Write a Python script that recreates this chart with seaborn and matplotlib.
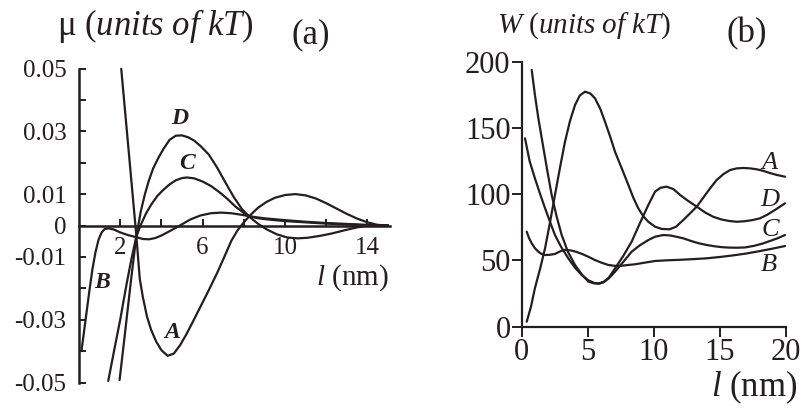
import matplotlib
matplotlib.use("Agg")
import matplotlib.pyplot as plt
import seaborn as sns
import pandas as pd

# ---- panel (a): chemical potential mu(l), units of kT ----
a_A_l = [2.05, 2.3, 2.55, 2.78, 2.95, 3.1, 3.3, 3.5, 3.75, 4.0, 4.3, 4.6, 4.9, 5.2, 5.5, 5.9,
         6.3, 6.7, 7.0, 7.4, 7.7, 8.0, 8.3, 8.7, 9.1, 9.5, 10.0, 10.5, 11.0, 11.5, 12.0, 12.5,
         13.0, 13.5, 14.0, 14.5, 15.0]
a_A_mu = [0.0499, 0.0318, 0.0137, -0.0030, -0.0170, -0.0228, -0.0290, -0.0332, -0.0370, -0.0397,
          -0.0415, -0.0408, -0.0382, -0.0348, -0.0310, -0.0258, -0.0206, -0.0152, -0.0108, -0.0048,
          -0.0015, 0.0010, 0.0032, 0.0057, 0.0075, 0.0088, 0.0097, 0.0100, 0.0096, 0.0086, 0.0071,
          0.0054, 0.0037, 0.0022, 0.0010, 0.0002, 0.0]

a_B_l = [0.12, 0.3, 0.5, 0.65, 0.8, 0.95, 1.1, 1.25, 1.45, 1.7, 2.0, 2.4, 2.78, 3.1, 3.4, 3.7,
         4.0, 4.4, 4.9, 5.4, 5.9, 6.4, 6.9, 7.4, 7.9, 8.3, 9.0, 10.0, 11.0, 12.0, 13.0, 14.0, 15.0]
a_B_mu = [-0.0400, -0.0310, -0.0210, -0.0140, -0.0085, -0.0045, -0.0022, -0.0011, -0.0009, -0.0013,
          -0.0022, -0.0031, -0.0037, -0.0043, -0.0044, -0.0040, -0.0032, -0.0018, 0.0000, 0.0019,
          0.0032, 0.0039, 0.0041, 0.0039, 0.0034, 0.0029, 0.0023, 0.0017, 0.0012, 0.0008, 0.0005,
          0.0002, 0.0]

a_C_l = [1.42, 1.7, 2.0, 2.3, 2.55, 2.78, 3.0, 3.25, 3.5, 3.8, 4.1, 4.4, 4.7, 5.0, 5.25, 5.6,
         6.0, 6.4, 6.8, 7.2, 7.6, 8.0, 8.3, 8.7, 9.2, 10.0, 11.0, 12.0, 13.0, 14.0, 15.0]
a_C_mu = [-0.0495, -0.0400, -0.0300, -0.0190, -0.0105, -0.0036, 0.0002, 0.0038, 0.0066, 0.0094,
          0.0114, 0.0131, 0.0144, 0.0151, 0.0153, 0.0150, 0.0140, 0.0126, 0.0107, 0.0085, 0.0060,
          0.0040, 0.0029, 0.0023, 0.0019, 0.0014, 0.0010, 0.0006, 0.0003, 0.0001, 0.0]

a_D_l = [1.97, 2.15, 2.35, 2.55, 2.78, 3.0, 3.2, 3.4, 3.6, 3.85, 4.1, 4.4, 4.7, 5.0, 5.3, 5.6,
         5.9, 6.3, 6.7, 7.1, 7.5, 7.9, 8.3, 8.7, 9.1, 9.6, 10.1, 10.6, 11.1, 11.7, 12.3, 12.9,
         13.5, 14.0, 15.0]
a_D_mu = [-0.0492, -0.0390, -0.0275, -0.0160, -0.0036, 0.0045, 0.0100, 0.0145, 0.0182, 0.0215,
          0.0244, 0.0273, 0.0286, 0.0287, 0.0281, 0.0270, 0.0253, 0.0226, 0.0185, 0.0138, 0.0092,
          0.0053, 0.0026, 0.0005, -0.0012, -0.0028, -0.0038, -0.0041, -0.0039, -0.0033, -0.0025,
          -0.0015, -0.0006, 0.0, 0.0]

# ---- panel (b): interaction energy W(l), units of kT ----
b_A_l = [0.38, 0.7, 1.0, 1.4, 1.77, 2.15, 2.52, 2.9, 3.28, 3.65, 4.04, 4.4, 4.8, 5.2, 5.55, 5.95,
         6.31, 6.7, 7.07, 7.6, 8.08, 8.45, 8.83, 9.2, 9.59, 10.1, 10.6, 11.2, 11.7, 12.24, 12.75,
         13.26, 13.8, 14.3, 14.77, 15.3, 15.8, 16.3, 16.8, 17.3, 17.8, 18.3, 18.8, 19.3, 19.95]
b_A_w = [3.8, 15, 29, 44, 59.2, 79, 99.4, 120, 139.6, 155, 167.3, 174.5, 177.4, 176, 172.4, 164.5,
         154.7, 143.5, 132, 119, 107, 97.5, 89.4, 83.5, 79.2, 75.5, 73.8, 73.5, 75.5, 80.5, 85.5,
         90.6, 98, 104.8, 110.7, 115.3, 118.3, 119.5, 119.8, 119.5, 118.8, 117.6, 116, 114.6, 113.2]

b_B_l = [0.38, 0.55, 0.76, 1.0, 1.26, 1.5, 1.77, 2.15, 2.52, 2.9, 3.28, 3.7, 4.1, 4.55, 5.05,
         5.55, 6.05, 6.56, 7.07, 7.58, 8.08, 8.58, 9.3, 10.1, 11, 12, 13, 14, 15, 16, 17, 18, 19,
         19.95]
b_B_w = [71.7, 67, 62.9, 59.3, 56.6, 55, 54.1, 54.3, 54.9, 56.8, 58, 57.6, 56.6, 55.0, 52.8,
         50.3, 48.3, 46.6, 45.9, 46, 46.6, 47.1, 48.3, 49.6, 50.1, 50.5, 51, 51.6, 52.6, 53.8,
         55.2, 57, 58.9, 60.9]

b_C_l = [0.25, 0.6, 1.0, 1.4, 1.77, 2.15, 2.52, 3.0, 3.53, 4.04, 4.55, 5.05, 5.55, 5.85, 6.2,
         6.6, 7.07, 7.7, 8.33, 8.96, 9.59, 10.1, 10.73, 11.3, 11.8, 12.24, 12.8, 13.4, 14.0, 14.6,
         15.2, 15.7, 16.29, 16.9, 17.6, 18.3, 18.9, 19.4, 19.95]
b_C_w = [142.2, 125, 112, 100, 89.4, 79, 69.2, 60, 51.6, 44.5, 39, 35, 32.8, 32.4, 33.5, 36.5,
         41.5, 49, 56.6, 61.5, 65.4, 67.9, 69.2, 68.8, 67.7, 66.7, 64.8, 63, 61.7, 60.7, 60, 59.7,
         59.6, 59.8, 61, 62.9, 65, 66.8, 69.2]

b_D_l = [0.76, 1.0, 1.25, 1.52, 1.9, 2.27, 2.65, 3.03, 3.5, 4.04, 4.55, 5.05, 5.45, 5.8, 6.2,
         6.6, 7.07, 7.7, 8.33, 8.95, 9.59, 10.1, 10.5, 10.98, 11.5, 12.0, 12.6, 13.26, 13.9, 14.5,
         15.1, 15.7, 16.29, 16.9, 17.5, 18.05, 18.6, 19.2, 19.95]
b_D_w = [193.7, 175, 158, 142.2, 120, 99.4, 83, 69.2, 56.5, 46.6, 39.5, 34, 32.8, 32.7, 33.8,
         37, 44, 53.5, 64.2, 78, 91.8, 101.9, 104.8, 105.7, 103.8, 99.4, 95, 90.6, 86.2, 83, 81,
         79.8, 79.2, 79.6, 80.5, 81.8, 84.5, 88.2, 93.1]

a_yticks = [-0.05, -0.04, -0.03, -0.02, -0.01, 0.0, 0.01, 0.02, 0.03, 0.04, 0.05]
a_yticklabels = ["-0.05", "", "-0.03", "", "-0.01", "0", "0.01", "", "0.03", "", "0.05"]
a_xticks = [2, 4, 6, 8, 10, 12, 14]
a_xticklabels = ["2", "", "6", "", "10", "", "14"]
b_yticks = [0, 50, 100, 150, 200]
b_xticks = [0, 5, 10, 15, 20]

sns.set_style("white")
plt.rcParams["font.family"] = ["Liberation Serif", "DejaVu Serif"]
plt.rcParams["mathtext.fontset"] = "custom"
plt.rcParams["mathtext.rm"] = "Liberation Serif"
plt.rcParams["mathtext.it"] = "Liberation Serif:italic"
plt.rcParams["mathtext.bf"] = "Liberation Serif:bold"

INK = "#231f20"
W_PX, H_PX = 803, 412

fig = plt.figure(figsize=(W_PX / 100, H_PX / 100), dpi=100)
fig.patch.set_facecolor("white")


def fx(px):
    return px / W_PX


def fy(py):
    return 1 - py / H_PX


def frame(curves, xname, yname):
    rows = []
    for name, xs, ys in curves:
        for xv, yv in zip(xs, ys):
            rows.append({xname: xv, yname: yv, "curve": name})
    return pd.DataFrame(rows)


# ---------------- panel (a) ----------------
ax_a = fig.add_axes([fx(79), fy(382.5), 15.2 * 20.6 / W_PX, 314 / H_PX])
df_a = frame([("A", a_A_l, a_A_mu), ("B", a_B_l, a_B_mu),
              ("C", a_C_l, a_C_mu), ("D", a_D_l, a_D_mu)], "l", "mu")
for name, sub in df_a.groupby("curve"):
    sns.lineplot(data=sub, x="l", y="mu", ax=ax_a, color=INK, lw=1.6,
                 sort=False, estimator=None, clip_on=False)
ax_a.set_xlim(0, 15.2)
ax_a.set_ylim(-0.05, 0.05)
ax_a.set_xlabel("")
ax_a.set_ylabel("")
for s in ("top", "right"):
    ax_a.spines[s].set_visible(False)
ax_a.spines["bottom"].set_position(("data", 0))
ax_a.spines["bottom"].set_bounds(0, 15.1)
ax_a.spines["left"].set_bounds(-0.05, 0.05)
for s in ("left", "bottom"):
    ax_a.spines[s].set_visible(True)
    ax_a.spines[s].set_color(INK)
    ax_a.spines[s].set_linewidth(1.8)
ax_a.set_yticks(a_yticks)
ax_a.set_yticklabels(a_yticklabels)
ax_a.set_xticks(a_xticks)
ax_a.set_xticklabels(a_xticklabels)
ax_a.tick_params(axis="both", direction="in", length=5, width=1.4, color=INK,
                 labelcolor=INK, labelsize=18, left=True, bottom=True)
ax_a.tick_params(axis="y", pad=9)
ax_a.tick_params(axis="x", pad=8)
ax_a.patch.set_alpha(0)

lab_a = dict(color=INK, fontsize=17, fontstyle="italic", fontweight="bold",
             ha="center", va="center")
ax_a.text(4.9, 0.0342, "D", **lab_a)
ax_a.text(5.24, 0.0199, "C", **lab_a)
ax_a.text(1.12, -0.0183, "B", **lab_a)
ax_a.text(4.51, -0.0342, "A", **lab_a)

fig.text(fx(57), fy(26), r"μ ($\mathit{units\ of\ kT}$)", ha="left", va="center",
         fontsize=25, color=INK)
fig.text(fx(311), fy(35), "(a)", ha="center", va="center", fontsize=25, color=INK)
fig.text(fx(389), fy(278), r"$l$ (nm)", ha="right", va="center", fontsize=21, color=INK)

# ---------------- panel (b) ----------------
ax_b = fig.add_axes([fx(521.7), fy(326.7), 264 / W_PX, 265 / H_PX])
df_b = frame([("A", b_A_l, b_A_w), ("B", b_B_l, b_B_w),
              ("C", b_C_l, b_C_w), ("D", b_D_l, b_D_w)], "l", "W")
for name, sub in df_b.groupby("curve"):
    sns.lineplot(data=sub, x="l", y="W", ax=ax_b, color=INK, lw=1.6,
                 sort=False, estimator=None, clip_on=False)
ax_b.set_xlim(0, 20)
ax_b.set_ylim(0, 200)
ax_b.set_xlabel("")
ax_b.set_ylabel("")
for s in ("top", "right"):
    ax_b.spines[s].set_visible(False)
for s in ("left", "bottom"):
    ax_b.spines[s].set_visible(True)
    ax_b.spines[s].set_color(INK)
    ax_b.spines[s].set_linewidth(1.6)
ax_b.set_yticks(b_yticks)
ax_b.set_xticks(b_xticks)
ax_b.tick_params(axis="both", direction="out", length=7, width=1.4, color=INK,
                 labelcolor=INK, labelsize=22, pad=1, left=True, bottom=True)
ax_b.patch.set_alpha(0)

lab_b = dict(color=INK, fontsize=19, fontstyle="italic", ha="center", va="center")
ax_b.text(18.8, 123.8, "A", **lab_b)
ax_b.text(18.8, 95.6, "D", **lab_b)
ax_b.text(18.8, 73.0, "C", **lab_b)
ax_b.text(18.7, 46.6, "B", **lab_b)

fig.text(fx(497), fy(26), r"$W$ ($\mathit{units\ of\ kT}$)", ha="left", va="center",
         fontsize=21, color=INK)
fig.text(fx(747), fy(34), "(b)", ha="center", va="center", fontsize=25, color=INK)
fig.text(fx(797), fy(387), r"$l$ (nm)", ha="right", va="center", fontsize=25, color=INK)

fig.savefig("out.png", dpi=100, facecolor="white")
